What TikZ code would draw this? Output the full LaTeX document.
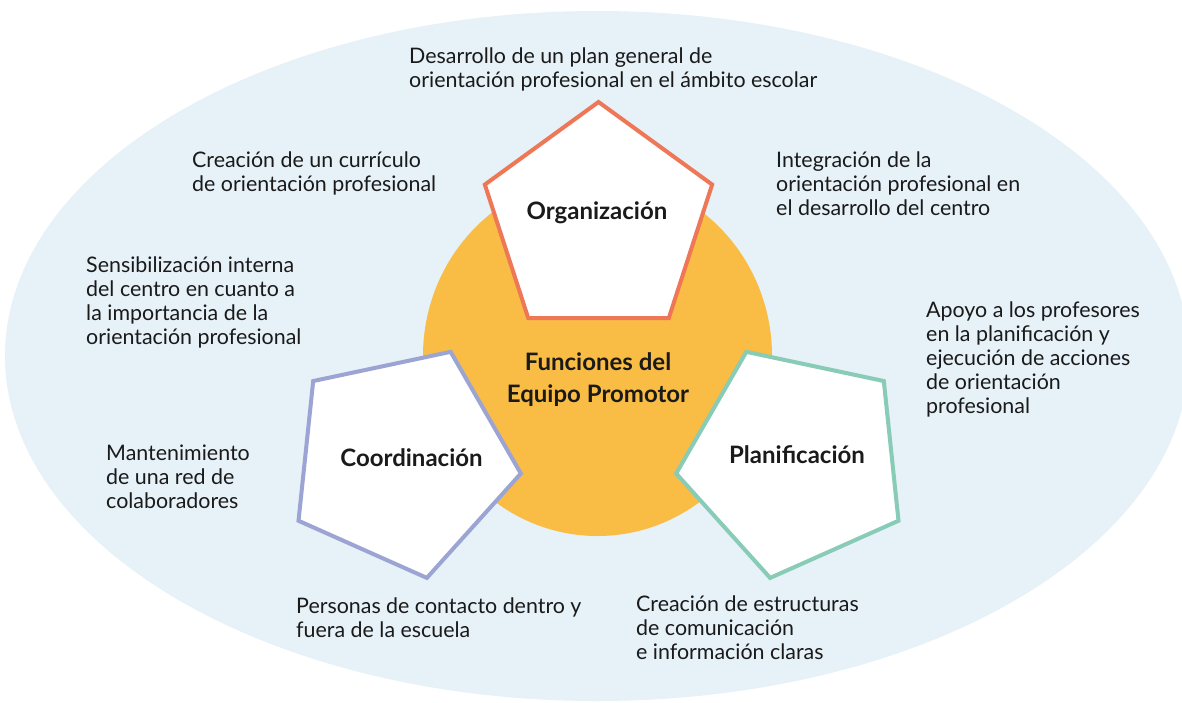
\documentclass[tikz,border=0pt]{standalone}
\usepackage{fontspec}
\setmainfont{Lato}
\usetikzlibrary{shapes.geometric}

\definecolor{bgblue}{HTML}{E6F1F8}
\definecolor{sunorange}{HTML}{F9BC45}
\definecolor{orgred}{HTML}{EE7758}
\definecolor{coordblue}{HTML}{9CA4D4}
\definecolor{planteal}{HTML}{88CBB6}
\definecolor{ink}{HTML}{1A1A1A}

\begin{document}
\begin{tikzpicture}[x=1pt,y=-1pt]
		% Define node styles
		\tikzstyle{pentagon} = [regular polygon, regular polygon sides=5, draw, line width=4pt, fill=white, minimum size=239pt, inner sep=0pt];
		\tikzstyle{title} = [font=\fontsize{24}{32}\selectfont\bfseries, text=ink, align=center, anchor=base, inner sep=0pt];
		\tikzstyle{task} = [font=\fontsize{21.4}{24}\selectfont, text=ink, align=left, anchor=base west, inner sep=0pt];
		
		\useasboundingbox (0,0) rectangle (1182,702);
		
		% Background field and core
		\node[ellipse, fill=bgblue, inner sep=0pt, minimum width=1184pt, minimum height=690pt] (field) at (597,356) {};
		\node[ellipse, fill=sunorange, inner sep=0pt, minimum width=349pt, minimum height=360pt] (core) at (597.5,356) {};
		\node[title] (coretitle) at (598,402) {Funciones del\\Equipo Promotor};
		
		% The three functions
		\node[pentagon, draw=orgred] (org) at (598.5,221.5) {};
		\node[pentagon, draw=coordblue, shape border rotate=120] (coord) at (402,461) {};
		\node[pentagon, draw=planteal, shape border rotate=240] (plan) at (795,461) {};
		\node[title] (orgtitle) at (597,219) {Organización};
		\node[title] (coordtitle) at (411.5,466.5) {Coordinación};
		\node[title] (plantitle) at (797,463) {Planificación};
		
		% Tasks around (placed at the baseline of their last line)
		\node[task] (plangen) at (409,87) {Desarrollo de un plan general de\\orientación profesional en el ámbito escolar};
		\node[task] (curric) at (192,191) {Creación de un currículo\\de orientación profesional};
		\node[task] (integ) at (776,215) {Integración de la\\orientación profesional en\\el desarrollo del centro};
		\node[task] (sensib) at (86,344) {Sensibilización interna\\del centro en cuanto a\\la importancia de la\\orientación profesional};
		\node[task] (apoyo) at (926,413) {Apoyo a los profesores\\en la planificación y\\ejecución de acciones\\de orientación\\profesional};
		\node[task] (red) at (106,508) {Mantenimiento\\de una red de\\colaboradores};
		\node[task] (contact) at (296,637) {Personas de contacto dentro y\\fuera de la escuela};
		\node[task] (comunic) at (636,659) {Creación de estructuras\\de comunicación\\e información claras};
	\end{tikzpicture}
\end{document}
